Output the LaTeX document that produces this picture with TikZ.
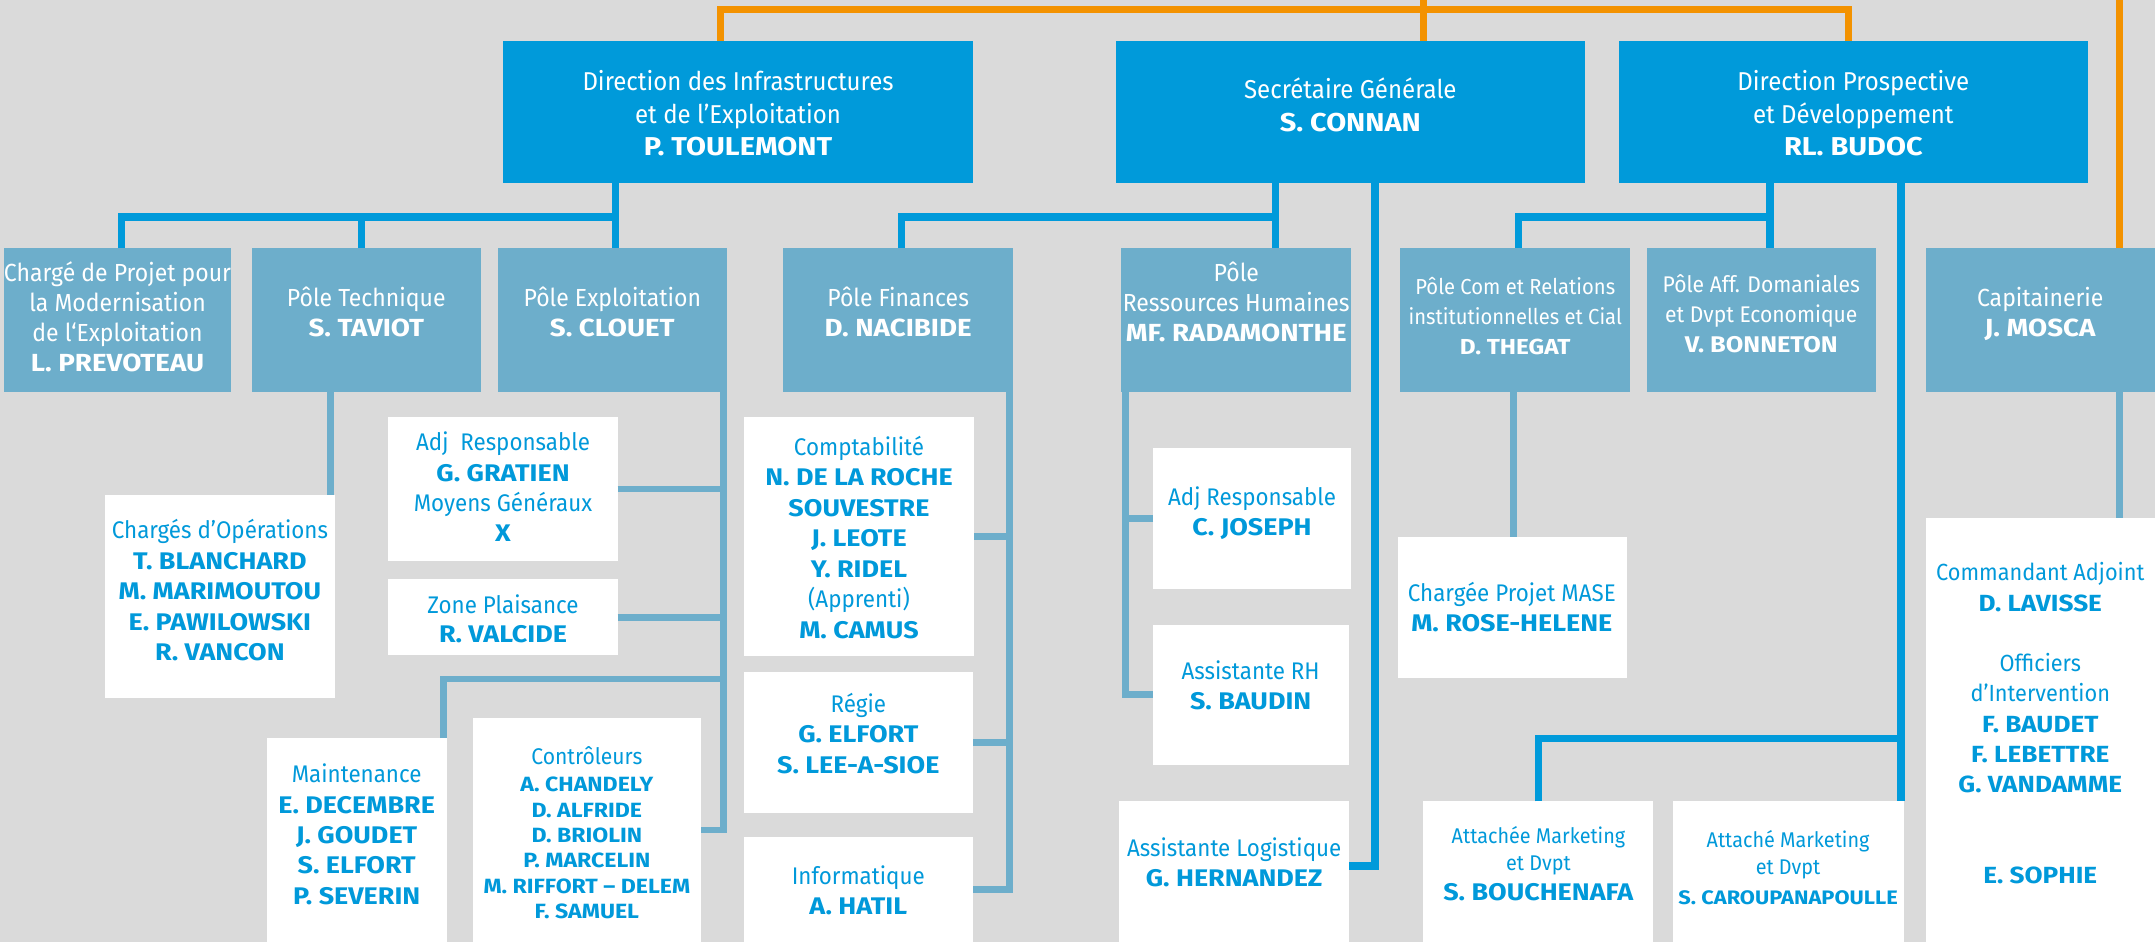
\documentclass[tikz,border=0pt]{standalone}
\usepackage{fontspec}
\setmainfont{Fira Sans}[FakeStretch=0.93,BoldFeatures={FakeStretch=1.12}]
\definecolor{bg}{HTML}{DADADA}
\definecolor{topblue}{HTML}{009ADA}
\definecolor{midblue}{HTML}{6DAECB}
\definecolor{orangec}{HTML}{F39200}
\definecolor{txtblue}{HTML}{0099DA}
\begin{document}
\begin{tikzpicture}[x=1pt,y=-1pt,
  box/.style={rectangle,inner sep=0pt,outer sep=0pt,draw=none,anchor=north west},
  topbox/.style={box,fill=topblue},
  midbox/.style={box,fill=midblue},
  wbox/.style={box,fill=white},
  orangeline/.style={draw=orangec,line width=5pt},
  topc/.style={draw=topblue,line width=5.4pt},
  subc/.style={draw=midblue,line width=5pt},
  lbl/.style={align=center,inner sep=0pt,outer sep=0pt,anchor=base},
  toptxt/.style={lbl,text=white,font=\fontsize{18.8}{24}\selectfont},
  midtxt/.style={lbl,text=white,font=\fontsize{18}{22.3}\selectfont},
  midsmall/.style={lbl,text=white,font=\fontsize{15.8}{21.5}\selectfont},
  midmed/.style={lbl,text=white,font=\fontsize{16.5}{22}\selectfont},
  btxt/.style={lbl,text=txtblue,font=\fontsize{17.5}{22.2}\selectfont},
  bsmall/.style={lbl,text=txtblue,font=\fontsize{15.5}{20}\selectfont},
  bnames/.style={lbl,text=txtblue,font=\fontsize{15}{18.5}\selectfont\bfseries},
]
\useasboundingbox (0,0) rectangle (1568,685.4);
\fill[bg] (0,0) rectangle (1568,685.4);

% top level
\node[topbox,minimum width=342pt,minimum height=103pt] (di) at (366,30) {};
\node[topbox,minimum width=341pt,minimum height=103pt] (sg) at (812,30) {};
\node[topbox,minimum width=341pt,minimum height=103pt] (dp) at (1178,30) {};
\node[toptxt] (di-t) at (537,113.5) {Direction des Infrastructures\\et de l’Exploitation\\\textbf{P. TOULEMONT}};
\node[toptxt] (sg-t) at (982.5,96) {Secrétaire Générale\\\textbf{S. CONNAN}};
\node[toptxt] (dp-t) at (1348.5,113.5) {Direction Prospective\\et Développement\\\textbf{RL. BUDOC}};

% second level
\node[midbox,minimum width=165pt,minimum height=104.4pt] (cp) at (3,180.6) {};
\node[midbox,minimum width=167pt,minimum height=104.4pt] (pt) at (183,180.6) {};
\node[midbox,minimum width=167pt,minimum height=104.4pt] (pe) at (362,180.6) {};
\node[midbox,minimum width=167pt,minimum height=104.4pt] (pf) at (570,180.6) {};
\node[midbox,minimum width=167pt,minimum height=104.4pt] (prh) at (816,180.6) {};
\node[midbox,minimum width=167pt,minimum height=104.4pt] (pc) at (1019,180.6) {};
\node[midbox,minimum width=167pt,minimum height=104.4pt] (pa) at (1198,180.6) {};
\node[midbox,minimum width=167pt,minimum height=104.4pt] (cap) at (1401,180.6) {};
\node[midtxt,font=\fontsize{18}{21.8}\selectfont] (cp-t) at (85.5,270.4) {Chargé de Projet pour\\la Modernisation\\de l‘Exploitation\\\textbf{L. PREVOTEAU}};
\node[midtxt] (pt-t) at (266.5,245) {Pôle Technique\\\textbf{S. TAVIOT}};
\node[midtxt] (pe-t) at (445.5,245) {Pôle Exploitation\\\textbf{S. CLOUET}};
\node[midtxt] (pf-t) at (653.5,245) {Pôle Finances\\\textbf{D. NACIBIDE}};
\node[midtxt,font=\fontsize{18}{21.8}\selectfont] (prh-t) at (899.5,248.6) {Pôle\\Ressources Humaines\\\textbf{MF. RADAMONTHE}};
\node[midsmall] (pc-t) at (1102.5,257.6) {Pôle Com et Relations\\institutionnelles et Cial\\\textbf{D. THEGAT}};
\node[midmed] (pa-t) at (1281.5,256.7) {Pôle Aff. Domaniales\\et Dvpt Economique\\\textbf{V. BONNETON}};
\node[midtxt] (cap-t) at (1484.5,245) {Capitainerie\\\textbf{J. MOSCA}};

% white boxes
\node[wbox,minimum width=167.5pt,minimum height=147.5pt] (co) at (76.5,360.5) {};
\node[wbox,minimum width=167pt,minimum height=104.5pt] (adj1) at (282.4,303.5) {};
\node[wbox,minimum width=167pt,minimum height=55.2pt] (zp) at (282.4,421.5) {};
\node[wbox,minimum width=131pt,minimum height=148.4pt] (mt) at (194,537) {};
\node[wbox,minimum width=166pt,minimum height=162.9pt] (ctl) at (344,522.5) {};
\node[wbox,minimum width=167.5pt,minimum height=173.9pt] (cpt) at (541.5,303.5) {};
\node[wbox,minimum width=167pt,minimum height=102.7pt] (reg) at (541,489) {};
\node[wbox,minimum width=167pt,minimum height=76.4pt] (inf) at (541,609) {};
\node[wbox,minimum width=144pt,minimum height=102.4pt] (adjrh) at (839,326) {};
\node[wbox,minimum width=142.6pt,minimum height=102pt] (arh) at (839,454.5) {};
\node[wbox,minimum width=167.2pt,minimum height=102.4pt] (al) at (814.3,583) {};
\node[wbox,minimum width=166.5pt,minimum height=102.2pt] (mase) at (1017,390.8) {};
\node[wbox,minimum width=167.3pt,minimum height=102.4pt] (att1) at (1035.7,583) {};
\node[wbox,minimum width=167.4pt,minimum height=102.4pt] (att2) at (1217.6,583) {};
\node[wbox,minimum width=167pt,minimum height=308.4pt] (cmd) at (1401,377) {};

\node[btxt] (co-t) at (160,480.8) {Chargés d’Opérations\\\textbf{T. BLANCHARD}\\\textbf{M. MARIMOUTOU}\\\textbf{E. PAWILOWSKI}\\\textbf{R. VANCON}};
\node[btxt,font=\fontsize{17.5}{22}\selectfont] (adj1-t) at (366,394) {Adj\ \ Responsable\\\textbf{G. GRATIEN}\\Moyens Généraux\\\textbf{X}};
\node[btxt,font=\fontsize{17.5}{21.4}\selectfont] (zp-t) at (366,467.8) {Zone Plaisance\\\textbf{R. VALCIDE}};
\node[btxt,font=\fontsize{17.5}{22.1}\selectfont] (mt-t) at (259.5,658) {Maintenance\\\textbf{E. DECEMBRE}\\\textbf{J. GOUDET}\\\textbf{S. ELFORT}\\\textbf{P. SEVERIN}};
\node[btxt,font=\fontsize{16.5}{20}\selectfont] (ctl-t) at (427,556) {Contrôleurs};
\node[bnames] (ctl-n) at (427,668.5) {A. CHANDELY\\D. ALFRIDE\\D. BRIOLIN\\P. MARCELIN\\M. RIFFORT – DELEM\\F. SAMUEL};
\node[btxt] (cpt-t) at (625,464.5) {Comptabilité\\\textbf{N. DE LA ROCHE}\\\textbf{SOUVESTRE}\\\textbf{J. LEOTE}\\\textbf{Y. RIDEL}\\(Apprenti)\\\textbf{M. CAMUS}};
\node[btxt,font=\fontsize{17.5}{21.9}\selectfont] (reg-t) at (624.5,562.5) {Régie\\\textbf{G. ELFORT}\\\textbf{S. LEE-A-SIOE}};
\node[btxt,font=\fontsize{17.5}{21.5}\selectfont] (inf-t) at (624.5,665.3) {Informatique\\\textbf{A. HATIL}};
\node[btxt] (adjrh-t) at (911,389.9) {Adj Responsable\\\textbf{C. JOSEPH}};
\node[btxt,font=\fontsize{17.5}{21.4}\selectfont] (arh-t) at (910,516) {Assistante RH\\\textbf{S. BAUDIN}};
\node[btxt,font=\fontsize{17.5}{21.5}\selectfont] (al-t) at (898,645) {Assistante Logistique\\\textbf{G. HERNANDEZ}};
\node[btxt,font=\fontsize{17.5}{21.6}\selectfont] (mase-t) at (1100,459.4) {Chargée Projet MASE\\\textbf{M. ROSE-HELENE}};
\node[bsmall] (att1-t) at (1119.4,633.7) {Attachée Marketing\\et Dvpt};
\node[btxt] (att1-n) at (1119.4,655) {\textbf{S. BOUCHENAFA}};
\node[bsmall] (att2-t) at (1301,636.5) {Attaché Marketing\\et Dvpt};
\node[bnames,font=\fontsize{14.2}{18.5}\selectfont\bfseries] (att2-n) at (1301,658) {S. CAROUPANAPOULLE};
\node[btxt,font=\fontsize{17}{22}\selectfont] (cmd-t) at (1484.5,642.7) {Commandant Adjoint\\\textbf{D. LAVISSE}\\\mbox{}\\Officiers\\d’Intervention\\\textbf{F. BAUDET}\\\textbf{F. LEBETTRE}\\\textbf{G. VANDAMME}\\\mbox{}\\\mbox{}\\\textbf{E. SOPHIE}};

% helper coordinates
\coordinate (ybar) at (0,158);
\coordinate (xdi) at (448,0);
\coordinate (xcp) at (88.5,0);
\coordinate (xpt) at (263,0);
\coordinate (xsg) at (928,0);
\coordinate (xpfd) at (656,0);
\coordinate (xsg2) at (1000.5,630);
\coordinate (xdp) at (1288,0);
\coordinate (xpcd) at (1104.8,0);
\coordinate (xdp2) at (1383.3,537.4);
\coordinate (xco) at (240.6,0);
\coordinate (xpe) at (526.4,0);
\coordinate (mtj) at (322.5,494);
\coordinate (xpf) at (734.2,0);
\coordinate (xrh) at (818.8,0);
\coordinate (xpc) at (1101,0);
\coordinate (xcap) at (1542,0);
\coordinate (ot) at (524,7);
\coordinate (otr) at (1345,7);
\coordinate (oA) at (1036,0);
\coordinate (oB) at (1542,0);

% orange links
\draw[orangeline] (di.north -| ot) |- (otr) -- (dp.north -| otr);
\draw[orangeline] (oA) -- (sg.north -| oA);
\draw[orangeline] (oB) -- (cap.north -| oB);

% top level links
\draw[topc] (di.south -| xdi) -- (pe.north -| xdi);
\draw[topc] (cp.north -| xcp) |- (xdi |- ybar);
\draw[topc] (pt.north -| xpt) -- (xpt |- ybar);
\draw[topc] (sg.south -| xsg) -- (prh.north -| xsg);
\draw[topc] (pf.north -| xpfd) |- (xsg |- ybar);
\draw[topc] (sg.south -| xsg2) |- (al.east |- xsg2);
\draw[topc] (dp.south -| xdp) -- (pa.north -| xdp);
\draw[topc] (pc.north -| xpcd) |- (xdp |- ybar);
\draw[topc] (dp.south -| xdp2) -- (att2.north -| xdp2);
\draw[topc] (att1.north) |- (xdp2);

% sub links
\draw[subc] (pt.south -| xco) -- (co.north -| xco);
\draw[subc] (pe.south -| xpe) |- (ctl.east);
\draw[subc] (adj1.east) -- (adj1.east -| xpe);
\draw[subc] (zp.east) -- (zp.east -| xpe);
\draw[subc] (mt.north -| mtj) |- (mtj -| xpe);
\draw[subc] (pf.south -| xpf) |- (inf.east);
\draw[subc] (cpt.east) -- (cpt.east -| xpf);
\draw[subc] (reg.east) -- (reg.east -| xpf);
\draw[subc] (prh.south -| xrh) |- (arh.west);
\draw[subc] (adjrh.west) -- (adjrh.west -| xrh);
\draw[subc] (pc.south -| xpc) -- (mase.north -| xpc);
\draw[subc] (cap.south -| xcap) -- (cmd.north -| xcap);
\end{tikzpicture}
\end{document}
